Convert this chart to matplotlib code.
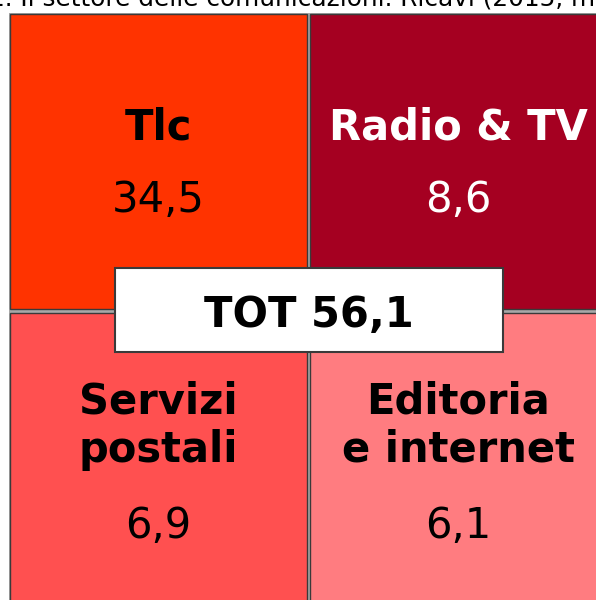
import matplotlib.pyplot as plt
from matplotlib.patches import Rectangle

plt.rcParams['font.family'] = ['DejaVu Sans']

# data
title = "1. Il settore delle comunicazioni. Ricavi (2015, miliardi di euro)"
categories = ["Tlc", "Radio & TV", "Servizi\npostali", "Editoria\ne internet"]
values = [34.5, 8.6, 6.9, 6.1]
grid_row = [0, 0, 1, 1]
grid_col = [0, 1, 0, 1]
colors = ["#FF3300", "#A50021", "#FF5050", "#FF7C80"]
text_colors = ["black", "white", "black", "black"]

def fmt(v):
    return f"{v:.1f}".replace(".", ",")

total = round(sum(values), 1)

fig = plt.figure(figsize=(5.96, 6.0), dpi=100)
ax = fig.add_axes([0, 0, 1, 1])
ax.set_xlim(0, 596)
ax.set_ylim(600, 0)
ax.axis('off')

# tile layout (pixels)
x_start, y_start = 10, 14
tile_w, tile_h = 297, 295
step_x, step_y = 300, 299
line_gap = 49

ax.add_patch(Rectangle((x_start - 1, y_start - 1), 2 * step_x + 2, 2 * step_y + 2,
                       facecolor="#a8a8a8", edgecolor="none", zorder=0))

for cat, val, r, c, col, tc in zip(categories, values, grid_row, grid_col, colors, text_colors):
    x0 = x_start + c * step_x
    y0 = y_start + r * step_y
    ax.add_patch(Rectangle((x0, y0), tile_w, tile_h, facecolor=col,
                           edgecolor="#3a3a3a", linewidth=1, zorder=1))
    cx = x0 + tile_w / 2
    lines = cat.split("\n")
    first_base = y0 + (126 if len(lines) == 1 else 100)
    for i, line in enumerate(lines):
        ax.text(cx, first_base + i * line_gap, line, ha='center', va='baseline',
                fontsize=30, fontweight='bold', color=tc, zorder=2)
    val_base = first_base + (len(lines) - 1) * line_gap + 72 + 4 * (len(lines) - 1)
    ax.text(cx, val_base, fmt(val), ha='center', va='baseline',
            fontsize=30, color=tc, zorder=2)

# total box in the middle of the grid
gx = x_start + step_x - 1.5
gy = y_start + step_y - 2
ax.add_patch(Rectangle((115, 268), 388, 84, facecolor="white",
                       edgecolor="#3a3a3a", linewidth=1.5, zorder=3))
ax.text(gx, gy + 16, f"TOT {fmt(total)}", ha='center', va='baseline', fontsize=30,
        fontweight='bold', color='black', zorder=4)

ax.text(-11, 5.5, title, ha='left', va='baseline', fontsize=17.8, color='black')

fig.savefig("out.png", dpi=100)
